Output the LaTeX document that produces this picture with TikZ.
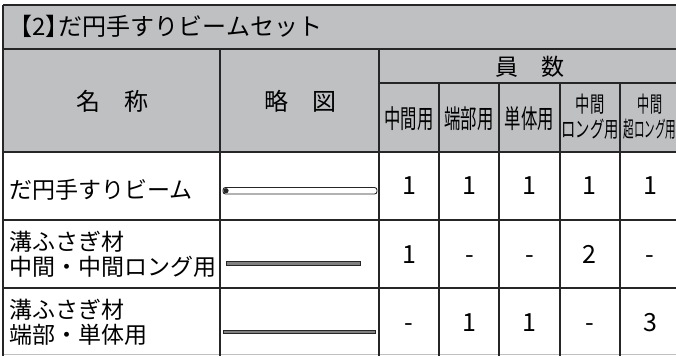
\documentclass[tikz,border=0pt]{standalone}
\usepackage{fontspec}
\usepackage{graphicx}
\setmainfont{Noto Sans CJK JP}

\definecolor{headgray}{RGB}{191,192,194}
\definecolor{rulegray}{RGB}{38,38,38}
\newcommand{\squeeze}[2]{\scalebox{#1}[1]{#2}}

\begin{document}
\begin{tikzpicture}[x=1pt,y=-1pt,
	txt/.style={inner sep=0pt, font=\fontsize{23}{25}\selectfont},
	head/.style={inner sep=0pt, font=\fontsize{24}{24}\selectfont},
	sub/.style={inner sep=0pt, font=\fontsize{26}{26}\selectfont},
	subtwo/.style={inner sep=0pt, align=center, font=\fontsize{22}{25}\selectfont},
	num/.style={inner sep=0pt, font=\fontsize{25}{25}\selectfont},
	grid/.style={line width=1.8pt, draw=rulegray}]
	
	\useasboundingbox (0,0) rectangle (676,356);
	\clip (0,0) rectangle (676,356);
	
	% header background
	\fill[headgray] (3,5) rectangle (680,152);
	
	% table rules
	\draw[grid, line width=2.3pt] (3,5) -- (680,5);
	\draw[grid] (3,49) -- (680,49);
	\draw[grid] (379,83) -- (680,83);
	\draw[grid] (3,152) -- (680,152);
	\draw[grid] (3,220) -- (680,220);
	\draw[grid] (3,288) -- (680,288);
	\draw[line width=0.8pt, draw=gray!50] (3,354.5) -- (680,354.5);
	\draw[grid] (3,5) -- (3,356);
	\draw[grid] (220,49) -- (220,356);
	\draw[grid] (379,49) -- (379,356);
	\foreach \x in {439,499,560,620}
		\draw[grid] (\x,83) -- (\x,356);
	
	% headings
	\node[head, anchor=base west] (title) at (8,35.5) {【2】\kern-0.45em だ円手すりビームセット};
	\node[head, anchor=base] (hname) at (112,110) {名　称};
	\node[head, anchor=base] (hsketch) at (300,110) {略　図};
	\node[txt, anchor=base] (hcount) at (529.5,75.5) {員　数};
	\node[sub, anchor=base] (sub1) at (409,128) {\squeeze{0.63}{中間用}};
	\node[sub, anchor=base] (sub2) at (469,128) {\squeeze{0.63}{端部用}};
	\node[sub, anchor=base] (sub3) at (529.5,128) {\squeeze{0.63}{単体用}};
	\node[subtwo] (sub4) at (590,116.5) {\squeeze{0.65}{中間}\\\squeeze{0.65}{ロング用}};
	\node[subtwo] (sub5) at (650,116.5) {\squeeze{0.55}{中間}\\\squeeze{0.48}{超ロング用}};
	
	% part names
	\node[txt, anchor=base west] (name1) at (9,198.5) {だ円手すりビーム};
	\node[txt, anchor=west, align=left] (name2) at (9,254.5) {溝ふさぎ材\\中間・中間ロング用};
	\node[txt, anchor=west, align=left] (name3) at (9,322.5) {溝ふさぎ材\\端部・単体用};
	
	% sketches
	\draw[line width=0.9pt, draw=rulegray, fill=white, rounded corners=2.5pt] (223,187.5) rectangle (377,194);
	\fill[rulegray] (226,190.7) circle (2.6);
	\draw[line width=1pt, draw=rulegray, fill=gray] (226,261.8) rectangle (360,265.2);
	\draw[line width=1pt, draw=rulegray, fill=gray] (223,330.2) rectangle (375,333.4);
	
	% counts
	\foreach \v [count=\i] in {1,1,1,1,1}
		\node[num, anchor=base] (a\i) at ({349+60.2*\i},194) {\v};
	\foreach \v [count=\i] in {1,-,-,2,-}
		\node[num, anchor=base] (b\i) at ({349+60.2*\i},263) {\v};
	\foreach \v [count=\i] in {-,1,1,-,3}
		\node[num, anchor=base] (c\i) at ({349+60.2*\i},331) {\v};
	
\end{tikzpicture}
\end{document}
